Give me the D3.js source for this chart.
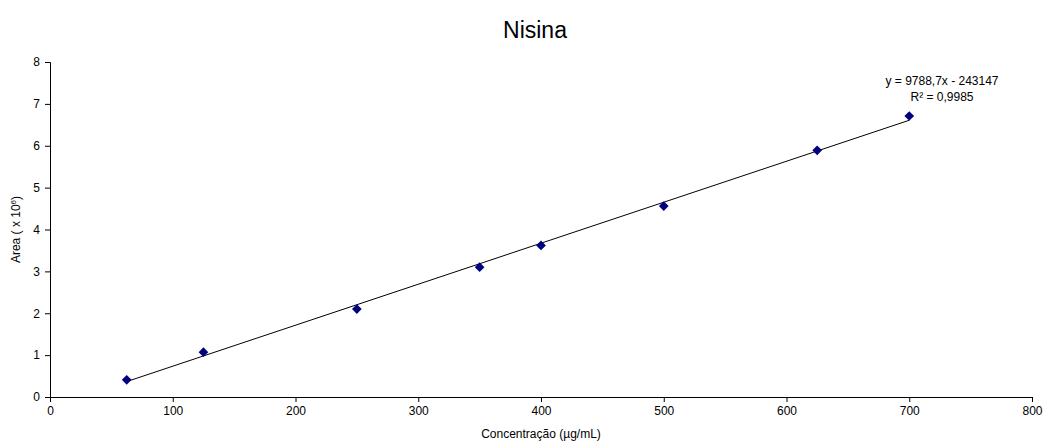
<!DOCTYPE html>
<html>
<head>
<meta charset="utf-8">
<script src="https://cdn.jsdelivr.net/npm/d3@7"></script>
<style>
  body { margin: 0; background: #fff; }
  text { font-family: "Liberation Sans", Arial, sans-serif; }
</style>
</head>
<body>
<div id="chart"></div>
<script>
// data
const concentrations = [62.5, 125, 250, 350, 400, 500, 625, 700];
const areas = [0.41, 1.07, 2.10, 3.10, 3.62, 4.56, 5.89, 6.71];
const xTicks = [0, 100, 200, 300, 400, 500, 600, 700, 800];
const yTicks = [0, 1, 2, 3, 4, 5, 6, 7, 8];
const slope = 9788.7;
const intercept = -243147;
const r2 = '0,9985';

const width = 1047;
const height = 443;
const margin = { top: 62, right: 15, bottom: 46, left: 50 };

const svg = d3.select('#chart')
  .append('svg')
  .attr('width', width)
  .attr('height', height);

const x = d3.scaleLinear().domain([0, 800]).range([margin.left, width - margin.right]);
const y = d3.scaleLinear().domain([0, 8]).range([height - margin.bottom, margin.top]);

// axes
const xAxis = svg.append('g')
  .attr('transform', 'translate(0,' + y(0) + ')')
  .call(d3.axisBottom(x).tickValues(xTicks).tickSize(5).tickPadding(4));

const yAxis = svg.append('g')
  .attr('transform', 'translate(' + x(0) + ',0)')
  .call(d3.axisLeft(y).tickValues(yTicks).tickSize(5).tickPadding(5));

[xAxis, yAxis].forEach(a => {
  a.select('.domain').attr('stroke', '#000');
  a.selectAll('.tick line').attr('stroke', '#000');
  a.selectAll('.tick text').style('font-size', '12px').attr('fill', '#000');
});

// trend line from the fitted equation
const x0 = d3.min(concentrations);
const x1 = d3.max(concentrations);
svg.append('line')
  .attr('x1', x(x0))
  .attr('y1', y((slope * x0 + intercept) / 1e6))
  .attr('x2', x(x1))
  .attr('y2', y((slope * x1 + intercept) / 1e6))
  .attr('stroke', '#000')
  .attr('stroke-width', 1);

// points
svg.selectAll('.pt')
  .data(concentrations)
  .enter()
  .append('path')
  .attr('class', 'pt')
  .attr('d', d3.symbol().type(d3.symbolDiamond2).size(60))
  .attr('transform', (d, i) => 'translate(' + x(d) + ',' + y(areas[i]) + ')')
  .attr('fill', '#000080');

// title
svg.append('text')
  .text('Nisina')
  .attr('x', 535)
  .attr('y', 38)
  .attr('text-anchor', 'middle')
  .style('font-size', '23px');

// equation
svg.append('text')
  .text('y = 9788,7x - 243147')
  .attr('x', 942)
  .attr('y', 85)
  .attr('text-anchor', 'middle')
  .style('font-size', '12px');

svg.append('text')
  .text('R² = ' + r2)
  .attr('x', 942)
  .attr('y', 101)
  .attr('text-anchor', 'middle')
  .style('font-size', '12px');

// axis labels
svg.append('text')
  .text('Concentração (µg/mL)')
  .attr('x', 541)
  .attr('y', 438)
  .attr('text-anchor', 'middle')
  .style('font-size', '12px');

const yl = svg.append('text')
  .attr('transform', 'translate(20,' + y(4) + ') rotate(-90)')
  .attr('text-anchor', 'middle')
  .style('font-size', '12px');
yl.append('tspan').text('Area ( x 10');
yl.append('tspan').text('6').attr('dy', -4).style('font-size', '8px');
yl.append('tspan').text(')').attr('dy', 4);
</script>
</body>
</html>
